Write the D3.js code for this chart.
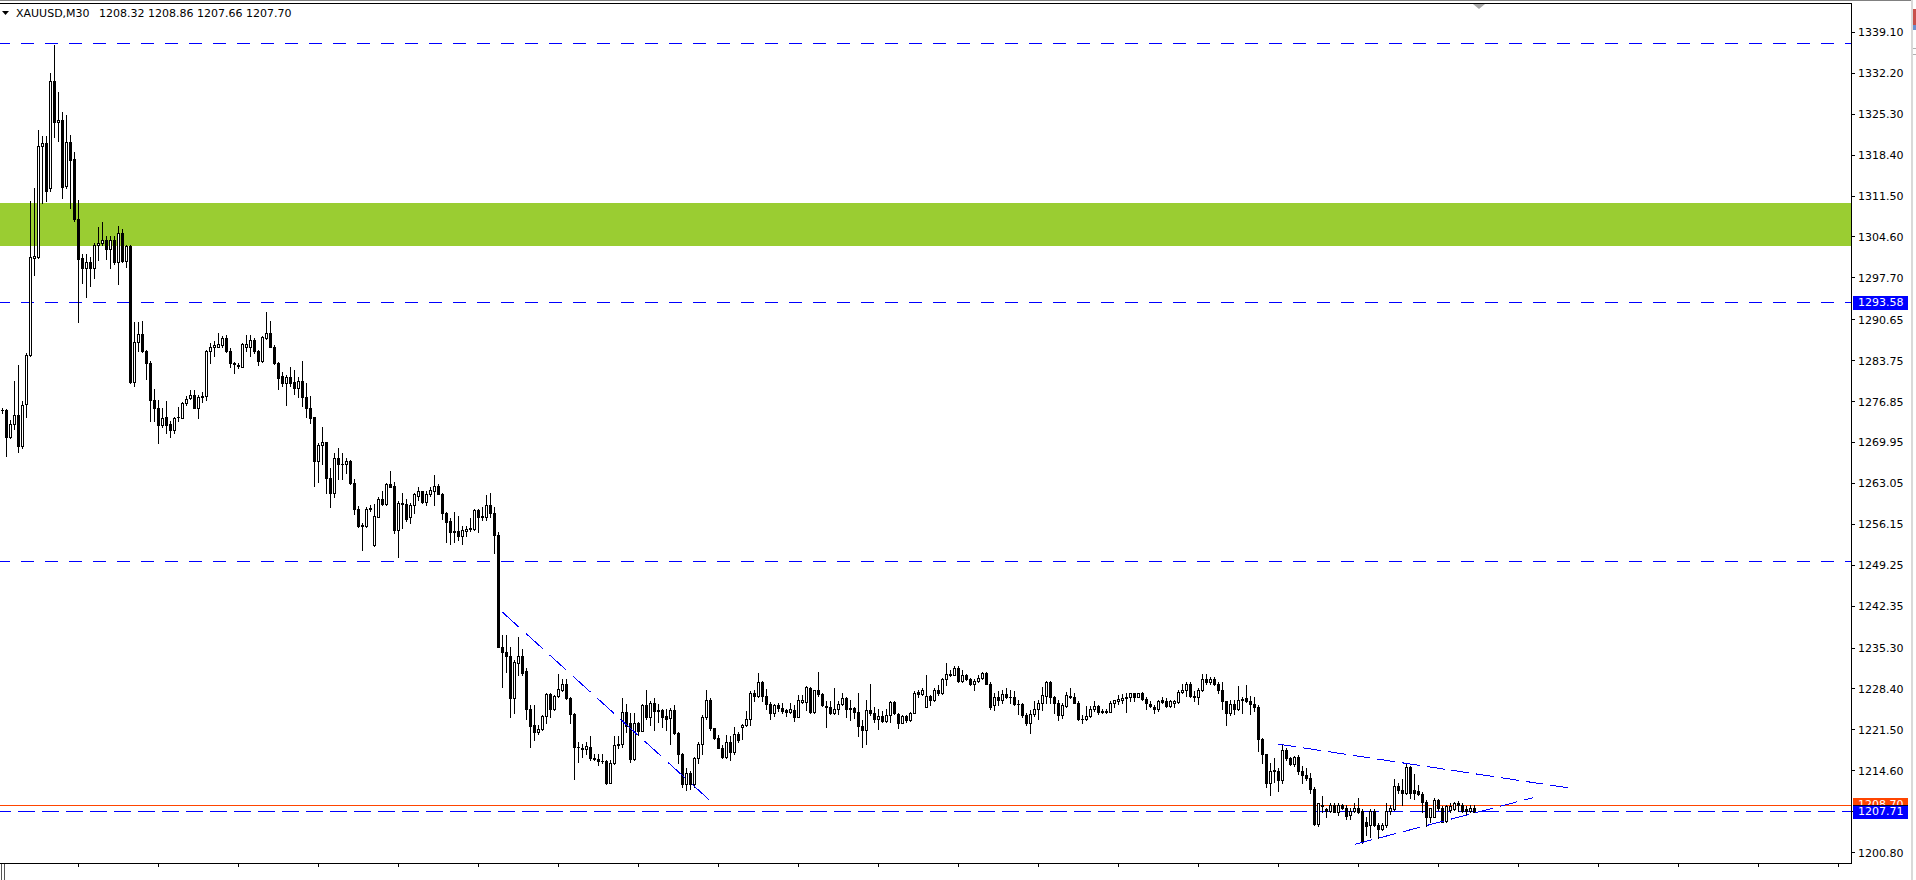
<!DOCTYPE html>
<html><head><meta charset="utf-8">
<script src="https://cdn.jsdelivr.net/npm/d3@7"></script>
<style>html,body{margin:0;padding:0;background:#fff;overflow:hidden}text{font-family:"DejaVu Sans",sans-serif;font-size:11px}</style>
</head><body><svg id="c" width="1916" height="880"></svg>
<script>
const symbolTitle = "XAUUSD,M30";
const lastQuote = ["1208.32", "1208.86", "1207.66", "1207.70"];

const opens = [
1275.4,1275.4,1270.9,1273.0,1274.6,1269.3,1276.4,1284.7,1301.1,1301.2,
1319.9,1320.4,1312.8,1330.9,1323.9,1324.4,1313.2,1320.6,1317.7,1307.7,
1301.0,1299.3,1300.3,1299.3,1303.2,1303.5,1304.1,1302.5,1304.1,1300.3,
1305.3,1300.5,1303.1,1280.2,1286.9,1288.2,1285.4,1283.3,1277.1,1275.7,
1272.9,1274.2,1273.0,1272.1,1274.2,1274.1,1276.6,1277.5,1277.9,1275.8,
1277.7,1277.8,1285.3,1286.1,1286.1,1286.4,1287.5,1285.4,1283.4,1283.0,
1282.7,1286.1,1286.1,1287.2,1285.4,1283.7,1287.5,1288.4,1286.1,1283.4,
1281.2,1279.9,1281.0,1280.2,1279.1,1280.3,1277.7,1275.8,1274.2,1266.8,
1269.5,1270.0,1263.9,1261.5,1267.4,1266.3,1266.4,1266.8,1263.1,1258.8,
1255.9,1255.9,1258.8,1252.6,1257.4,1260.4,1259.6,1263.0,1262.6,1255.2,
1259.7,1259.5,1257.4,1259.4,1261.0,1261.7,1260.0,1261.3,1261.8,1262.7,
1261.3,1258.0,1256.8,1255.0,1255.0,1254.2,1255.1,1255.3,1255.4,1258.6,
1257.4,1257.4,1259.4,1258.1,1254.4,1235.5,1234.6,1234.0,1226.9,1232.7,
1233.9,1231.4,1225.0,1222.3,1221.1,1221.6,1223.8,1227.5,1225.1,1227.2,
1228.2,1229.3,1226.9,1224.1,1218.7,1218.5,1218.3,1218.6,1216.7,1216.6,
1216.3,1216.2,1212.6,1215.9,1218.9,1219.2,1224.5,1222.7,1216.6,1222.6,
1221.4,1225.7,1223.7,1226.0,1224.7,1224.9,1223.9,1223.5,1224.9,1221.0,
1217.5,1212.4,1214.3,1212.4,1216.7,1219.1,1223.6,1226.5,1221.8,1220.2,
1218.5,1217.0,1219.5,1217.7,1220.8,1222.0,1222.4,1223.3,1227.8,1227.3,
1229.5,1227.3,1225.9,1224.3,1225.7,1225.2,1224.8,1224.6,1224.9,1223.7,
1226.2,1226.2,1228.6,1224.6,1228.2,1227.5,1225.6,1225.3,1224.4,1225.0,
1225.9,1226.8,1225.1,1225.2,1224.6,1222.2,1221.5,1224.9,1224.4,1223.3,
1223.8,1223.0,1224.0,1226.2,1224.2,1222.7,1223.8,1223.1,1224.4,1227.9,
1227.5,1225.4,1227.2,1226.5,1228.2,1227.7,1230.0,1231.0,1230.8,1231.9,
1229.8,1230.8,1230.0,1229.2,1229.7,1230.2,1231.1,1229.3,1225.7,1227.0,
1226.6,1227.5,1227.1,1227.0,1225.9,1225.8,1224.0,1222.7,1224.2,1225.0,
1226.0,1227.3,1229.6,1227.1,1226.0,1224.0,1225.6,1227.0,1227.1,1226.1,
1223.4,1223.4,1223.8,1225.1,1225.5,1224.7,1224.6,1224.6,1226.1,1226.4,
1226.6,1226.9,1227.0,1227.7,1227.1,1227.7,1226.7,1225.8,1225.4,1225.0,
1226.5,1226.3,1225.5,1226.0,1226.2,1227.9,1228.3,1229.2,1227.3,1227.1,
1228.3,1230.0,1229.6,1230.0,1229.3,1228.3,1226.3,1224.3,1225.8,1225.1,
1226.6,1226.8,1226.4,1225.8,1225.3,1220.0,1217.4,1212.6,1214.6,1214.5,
1213.1,1218.1,1216.7,1215.8,1217.0,1214.5,1213.9,1213.4,1211.6,1205.7,
1208.6,1208.1,1207.9,1208.8,1207.7,1208.8,1208.4,1207.1,1207.8,1208.3,
1207.8,1206.0,1205.4,1207.9,1205.5,1204.8,1205.4,1207.9,1208.1,1212.0,
1211.3,1210.9,1215.3,1211.3,1211.2,1210.7,1209.4,1206.9,1206.9,1209.7,
1208.3,1206.1,1208.0,1208.1,1209.1,1208.9,1208.1,1207.9,1208.32];

const highs = [
1275.7,1275.6,1273.8,1280.4,1283.0,1277.0,1285.0,1310.6,1312.8,1322.6,
1321.7,1321.7,1332.2,1337.0,1329.1,1325.6,1325.2,1321.8,1319.0,1310.8,
1301.8,1301.8,1301.3,1303.5,1306.3,1307.1,1304.8,1304.8,1304.8,1306.4,
1305.9,1303.2,1303.3,1290.3,1290.3,1290.4,1285.6,1283.7,1278.9,1277.1,
1275.7,1277.0,1273.5,1274.3,1276.0,1276.8,1277.8,1278.8,1278.8,1278.0,
1278.5,1285.6,1286.7,1287.0,1288.4,1287.9,1288.1,1285.8,1283.6,1283.3,
1286.7,1288.1,1288.1,1287.5,1285.6,1287.9,1292.0,1290.4,1286.4,1283.6,
1281.9,1281.3,1282.6,1282.1,1281.0,1283.7,1280.0,1277.8,1274.3,1269.8,
1272.6,1270.1,1265.7,1268.1,1269.0,1268.2,1267.4,1267.0,1263.8,1259.3,
1256.3,1259.0,1259.4,1259.6,1260.7,1261.7,1263.1,1265.1,1263.3,1260.1,
1261.5,1260.5,1259.7,1261.5,1262.5,1261.8,1261.7,1262.5,1264.5,1262.9,
1261.4,1258.3,1257.2,1258.3,1257.6,1255.8,1255.9,1257.2,1258.8,1258.8,
1259.0,1261.1,1261.5,1259.0,1254.9,1237.5,1237.5,1235.5,1233.3,1237.2,
1235.2,1232.0,1225.7,1225.7,1222.3,1224.0,1227.7,1227.7,1227.4,1230.9,
1230.0,1230.1,1227.1,1224.3,1219.5,1219.2,1219.4,1220.5,1217.4,1217.5,
1217.4,1216.4,1216.4,1220.4,1220.4,1226.8,1225.8,1224.3,1224.3,1222.9,
1225.8,1228.2,1226.3,1226.8,1225.9,1225.0,1225.1,1225.2,1225.7,1221.2,
1217.6,1215.0,1214.5,1217.0,1219.4,1224.0,1228.2,1226.8,1221.9,1220.6,
1219.0,1220.6,1220.4,1222.0,1221.2,1222.5,1224.7,1228.1,1228.2,1231.1,
1229.7,1228.4,1226.2,1225.8,1226.1,1226.0,1225.0,1226.0,1225.7,1227.4,
1227.4,1228.9,1228.8,1228.3,1231.2,1227.7,1226.3,1226.3,1228.6,1226.3,
1227.7,1227.1,1226.5,1225.4,1227.7,1223.2,1226.6,1229.3,1225.4,1225.0,
1224.7,1225.0,1226.3,1226.3,1224.4,1224.0,1224.0,1224.6,1228.0,1228.2,
1228.5,1230.8,1227.4,1228.5,1229.1,1230.3,1232.7,1231.6,1232.3,1232.2,
1231.6,1231.0,1230.2,1230.0,1230.8,1231.3,1231.3,1229.5,1227.7,1228.0,
1228.2,1228.5,1228.3,1228.0,1226.5,1226.1,1224.3,1224.9,1226.4,1226.6,
1228.8,1229.8,1229.7,1227.3,1226.6,1226.0,1227.9,1228.6,1227.7,1226.3,
1224.0,1225.5,1225.5,1226.4,1225.7,1225.1,1225.0,1226.3,1226.6,1227.4,
1227.5,1227.8,1227.8,1227.8,1227.8,1227.9,1227.1,1226.4,1225.7,1226.5,
1227.0,1226.8,1226.5,1226.6,1228.2,1229.3,1229.5,1229.5,1228.1,1228.5,
1231.0,1230.9,1230.4,1230.4,1229.6,1229.6,1226.4,1226.5,1226.5,1228.9,
1227.0,1229.1,1227.2,1227.1,1225.7,1220.1,1217.5,1215.9,1216.7,1215.0,
1219.0,1218.4,1217.0,1217.1,1217.3,1215.4,1215.0,1214.2,1211.9,1209.2,
1210.4,1208.4,1209.1,1209.1,1209.2,1209.0,1208.8,1208.3,1209.1,1210.0,
1208.1,1206.9,1208.1,1208.1,1205.8,1205.8,1209.1,1208.8,1213.2,1212.5,
1213.3,1216.0,1215.4,1214.1,1212.2,1211.1,1209.7,1208.4,1210.0,1209.8,
1208.7,1208.8,1209.1,1209.4,1209.5,1209.2,1208.7,1208.8,1208.86];

const lows = [
1274.9,1267.7,1270.7,1272.3,1268.4,1269.1,1274.3,1284.6,1298.2,1301.0,
1310.3,1310.6,1312.4,1321.5,1320.8,1311.2,1312.8,1309.5,1307.3,1290.2,
1296.8,1294.4,1296.4,1297.7,1300.7,1303.2,1300.9,1299.3,1300.0,1296.7,
1300.3,1299.6,1280.0,1279.4,1285.3,1285.2,1280.6,1273.6,1273.5,1269.8,
1272.6,1271.5,1270.8,1271.6,1273.6,1274.0,1276.3,1277.3,1275.7,1274.0,
1276.7,1277.1,1283.4,1284.5,1286.0,1286.1,1285.2,1282.6,1281.6,1282.5,
1282.6,1285.3,1284.5,1285.0,1283.0,1283.6,1287.4,1286.0,1283.1,1278.9,
1279.5,1276.3,1279.5,1278.1,1277.7,1276.1,1274.3,1273.2,1262.7,1263.3,
1266.4,1261.5,1259.0,1260.8,1263.8,1263.8,1264.8,1263.0,1257.9,1255.7,
1251.9,1255.7,1258.4,1252.5,1257.4,1259.4,1259.4,1262.4,1254.7,1250.7,
1255.6,1256.8,1256.3,1258.0,1260.3,1259.7,1259.4,1261.0,1259.4,1261.2,
1257.0,1253.2,1252.8,1253.2,1253.5,1252.8,1254.2,1255.1,1255.2,1254.9,
1256.9,1256.9,1257.4,1251.3,1235.4,1228.8,1231.3,1223.7,1224.3,1230.8,
1230.8,1223.4,1218.7,1219.8,1220.8,1221.5,1222.7,1223.6,1224.9,1227.1,
1228.1,1226.7,1222.6,1213.2,1216.1,1217.0,1217.5,1216.4,1216.4,1215.6,
1215.9,1212.4,1212.5,1215.7,1218.4,1218.7,1221.2,1216.1,1216.4,1220.6,
1221.3,1223.4,1222.3,1221.5,1222.9,1222.0,1221.5,1219.2,1220.8,1215.9,
1211.9,1211.3,1211.5,1211.8,1215.9,1217.5,1223.4,1221.5,1219.9,1218.4,
1216.7,1216.7,1216.4,1217.5,1219.5,1219.9,1222.2,1222.3,1226.4,1227.1,
1226.3,1225.0,1223.3,1223.8,1224.7,1224.4,1223.8,1224.3,1223.0,1223.6,
1226.0,1224.9,1224.3,1224.4,1227.3,1225.6,1222.0,1224.2,1224.2,1224.2,
1225.7,1223.6,1223.1,1223.5,1220.4,1218.6,1219.2,1224.0,1222.9,1221.6,
1222.9,1222.9,1222.9,1224.2,1221.9,1222.6,1222.9,1223.0,1224.3,1227.1,
1227.4,1225.4,1225.7,1226.3,1227.4,1227.5,1229.1,1230.6,1230.7,1229.6,
1229.6,1229.9,1229.0,1228.2,1229.5,1230.0,1229.2,1225.1,1224.9,1225.7,
1226.1,1226.8,1226.1,1225.7,1224.2,1223.6,1222.3,1221.0,1223.8,1223.3,
1224.9,1226.0,1226.0,1224.4,1223.2,1223.5,1225.4,1226.8,1226.0,1223.2,
1222.6,1223.2,1223.6,1224.7,1224.2,1224.4,1224.3,1224.5,1225.4,1225.8,
1226.0,1224.6,1226.3,1226.4,1227.0,1226.6,1225.1,1225.3,1224.4,1224.7,
1226.0,1225.4,1225.3,1225.4,1226.0,1227.7,1227.2,1227.1,1226.3,1225.8,
1228.1,1229.2,1229.3,1229.1,1227.7,1225.0,1222.4,1224.0,1224.1,1224.9,
1224.4,1226.2,1224.2,1224.7,1218.0,1215.9,1211.9,1210.6,1212.8,1211.2,
1212.5,1216.4,1215.6,1215.4,1214.1,1212.6,1213.0,1210.8,1205.5,1205.3,
1207.7,1206.9,1207.7,1207.6,1207.2,1208.2,1206.5,1206.4,1207.7,1207.5,
1202.5,1203.8,1203.5,1205.3,1203.2,1204.6,1205.2,1207.4,1208.0,1210.9,
1208.8,1210.7,1210.0,1209.8,1210.5,1207.7,1205.3,1205.9,1206.8,1208.0,
1205.9,1206.0,1207.7,1208.0,1207.9,1207.7,1207.2,1207.7,1207.66];

const closes = [
1275.4,1270.9,1273.0,1274.6,1269.4,1276.3,1284.7,1301.3,1301.4,1319.9,
1320.4,1312.4,1330.9,1324.0,1324.4,1313.1,1320.6,1317.6,1307.6,1300.9,
1299.3,1300.3,1299.3,1303.2,1303.5,1304.1,1302.5,1304.1,1300.3,1305.3,
1300.5,1303.0,1280.2,1286.9,1288.2,1285.4,1283.3,1277.1,1275.7,1272.9,
1274.1,1272.9,1272.1,1274.1,1274.3,1276.6,1277.3,1277.9,1275.8,1277.7,
1277.8,1285.4,1286.1,1286.4,1286.6,1287.5,1285.3,1283.4,1283.1,1282.9,
1286.5,1286.6,1287.2,1285.3,1283.7,1287.8,1288.4,1286.1,1283.3,1280.9,
1279.9,1281.0,1279.9,1279.1,1280.3,1277.7,1275.8,1274.1,1266.8,1269.5,
1270.0,1263.9,1261.5,1267.4,1266.3,1266.4,1266.9,1263.2,1258.8,1255.8,
1256.0,1258.8,1258.9,1257.6,1260.5,1259.6,1263.0,1262.5,1255.2,1259.7,
1259.5,1257.0,1259.4,1261.3,1261.7,1259.9,1261.3,1261.9,1262.7,1261.3,
1258.0,1256.6,1254.9,1254.8,1254.2,1255.2,1255.4,1255.5,1258.6,1257.4,
1257.5,1259.4,1258.1,1254.4,1235.5,1234.6,1234.0,1226.9,1232.9,1234.0,
1231.1,1225.0,1222.2,1221.1,1221.6,1223.8,1227.5,1225.1,1227.2,1228.4,
1229.3,1226.9,1224.1,1218.7,1218.6,1218.3,1218.8,1216.7,1216.6,1216.3,
1216.2,1212.6,1215.9,1219.0,1219.2,1224.5,1222.2,1216.6,1222.6,1221.4,
1225.7,1223.7,1226.0,1224.7,1224.9,1223.7,1223.4,1224.9,1221.0,1217.5,
1212.4,1214.3,1212.4,1216.7,1219.1,1223.6,1226.5,1221.8,1220.2,1218.5,
1217.0,1219.5,1217.7,1220.8,1219.8,1222.4,1223.3,1227.8,1227.3,1229.5,
1227.3,1225.8,1224.3,1225.7,1225.2,1224.7,1224.6,1225.0,1223.7,1226.5,
1226.5,1228.7,1224.6,1228.2,1227.5,1225.7,1225.3,1224.4,1225.0,1225.9,
1226.8,1225.1,1225.2,1224.6,1222.2,1221.5,1224.9,1224.4,1223.3,1223.8,
1223.0,1224.0,1226.2,1224.3,1222.7,1223.8,1223.1,1224.4,1227.8,1227.5,
1228.3,1227.2,1226.5,1228.2,1227.7,1230.0,1230.9,1230.8,1231.9,1229.8,
1230.8,1230.0,1229.2,1229.7,1230.2,1231.1,1229.3,1225.3,1227.0,1226.6,
1227.5,1227.1,1227.0,1225.9,1225.8,1224.0,1222.7,1224.2,1225.1,1226.1,
1227.4,1229.6,1227.1,1226.0,1224.0,1225.7,1227.4,1227.2,1226.1,1223.3,
1223.3,1223.8,1225.1,1225.5,1224.6,1224.5,1224.7,1226.1,1226.5,1226.7,
1226.9,1227.0,1227.7,1227.1,1227.7,1226.7,1226.0,1225.5,1225.0,1226.3,
1226.2,1225.5,1226.3,1226.3,1227.9,1228.3,1229.2,1227.3,1227.1,1228.3,
1230.0,1229.6,1230.0,1229.3,1228.3,1226.3,1224.3,1225.8,1225.1,1226.6,
1226.7,1226.4,1225.8,1225.3,1220.0,1217.4,1212.6,1214.6,1214.7,1213.0,
1218.1,1216.7,1215.8,1217.0,1214.5,1213.9,1213.4,1211.6,1205.6,1209.1,
1208.8,1207.9,1208.8,1207.7,1208.8,1208.4,1207.0,1207.8,1208.4,1207.7,
1202.7,1205.3,1207.8,1205.5,1204.8,1205.5,1207.9,1208.4,1212.0,1211.3,
1210.9,1215.3,1210.8,1210.8,1210.7,1209.4,1206.9,1208.3,1209.7,1208.3,
1206.0,1208.7,1208.7,1209.1,1208.8,1207.9,1207.9,1208.4,1207.70];

const priceTicks = ["1339.10","1332.20","1325.30","1318.40","1311.50","1304.60","1297.70",
  "1290.65","1283.75","1276.85","1269.95","1263.05","1256.15","1249.25","1242.35",
  "1235.30","1228.40","1221.50","1214.60","1207.70","1200.80"];

const zoneRange = [1303.1, 1310.3];
const levelPrices = [1337.25, 1293.58, 1249.95];
const levelLabel = "1293.58";
const supportPrice = 1207.71;
const askPrice = 1208.70;
const trendLines = [
  [[124.9, 1241.4], [176.7, 1209.7]],
  [[319.0, 1219.1], [391.75, 1211.7]],
  [[338.0, 1202.2], [382.75, 1210.1]]
];
const timeTickIdx = [19,39,59,79,99,119,139,159,179,199,219,239,259,279,299,319,339,359,379,399,419,439,459];

// ---------- drawing ----------
const axisX = 1851, frameTop = 3, frameBottom = 863;
const x = d3.scaleLinear().domain([0, 462]).range([2.5, 1850.5]);
const y = d3.scaleLinear().domain([1200.80, 1339.10]).range([852.7, 32.3]);
const svg = d3.select("#c").attr("shape-rendering", "crispEdges");
const py = p => Math.floor(y(p)) + 0.5;

svg.append("rect").attr("width", 1916).attr("height", 880).attr("fill", "#fff");

// zone
const zt = Math.round(y(zoneRange[1])), zb = Math.round(y(zoneRange[0]));
svg.append("rect").attr("x", 0).attr("y", zt).attr("width", axisX).attr("height", zb - zt).attr("fill", "#9ACD32");

// horizontal dashed levels
svg.selectAll("line.lvl").data(levelPrices).join("line")
  .attr("x1", 0).attr("x2", axisX).attr("y1", d => py(d)).attr("y2", d => py(d))
  .attr("stroke", "#0000FF").attr("stroke-width", 1).attr("stroke-dasharray", "13,11").attr("stroke-dashoffset", 3);

// ask line (solid orange)
svg.append("line").attr("x1", 0).attr("x2", axisX).attr("y1", py(askPrice)).attr("y2", py(askPrice))
  .attr("stroke", "#FF4500").attr("stroke-width", 1);
// support dashed
svg.append("line").attr("x1", 0).attr("x2", axisX).attr("y1", py(supportPrice)).attr("y2", py(supportPrice))
  .attr("stroke", "#0000FF").attr("stroke-width", 1).attr("stroke-dasharray", "17,7").attr("stroke-dashoffset", 6);

// candles
const g = svg.append("g");
opens.forEach((o, i) => {
  const c = closes[i], h = highs[i], l = lows[i];
  const cx = Math.floor(x(i));
  const yh = Math.round(y(h)), yl = Math.round(y(l));
  g.append("rect").attr("x", cx).attr("y", yh).attr("width", 1).attr("height", Math.max(1, yl - yh + 1)).attr("fill", "#000");
  const top = Math.round(y(Math.max(o, c))), bot = Math.round(y(Math.min(o, c)));
  g.append("rect").attr("x", cx - 1).attr("y", top).attr("width", 3).attr("height", Math.max(1, bot - top + 1)).attr("fill", "#000");
  if (c > o && bot - top >= 2) {
    g.append("rect").attr("x", cx).attr("y", top + 1).attr("width", 1).attr("height", bot - top - 1).attr("fill", "#fff");
  }
});

// trend lines
const tl = d3.line().x(d => x(d[0])).y(d => y(d[1]));
trendLines.forEach((pts, k) => {
  svg.append("path").attr("d", tl(pts)).attr("fill", "none").attr("stroke", "#0000FF").attr("stroke-width", 1)
    .attr("stroke-dasharray", k === 0 ? "23,9" : "18,7");
});

// frame
svg.append("line").attr("x1", 0).attr("x2", 1911).attr("y1", 0.5).attr("y2", 0.5).attr("stroke", "#808080");
svg.append("line").attr("x1", 0).attr("x2", axisX + 1).attr("y1", frameTop + 0.5).attr("y2", frameTop + 0.5).attr("stroke", "#000");
svg.append("line").attr("x1", axisX + 0.5).attr("x2", axisX + 0.5).attr("y1", frameTop).attr("y2", frameBottom + 1).attr("stroke", "#000");
svg.append("line").attr("x1", 0).attr("x2", axisX + 1).attr("y1", frameBottom + 0.5).attr("y2", frameBottom + 0.5).attr("stroke", "#000");
svg.append("line").attr("x1", 1.5).attr("x2", 1.5).attr("y1", frameBottom + 1).attr("y2", 880).attr("stroke", "#555");
svg.append("line").attr("x1", 4.5).attr("x2", 4.5).attr("y1", frameBottom + 1).attr("y2", 880).attr("stroke", "#555");
svg.append("rect").attr("x", 1911).attr("y", 0).attr("width", 2).attr("height", 880).attr("fill", "#d9d9d9");
svg.append("rect").attr("x", 1913).attr("y", 9).attr("width", 3).attr("height", 16).attr("fill", "#c8504b");
svg.append("rect").attr("x", 1913).attr("y", 25).attr("width", 3).attr("height", 5).attr("fill", "#6a8fd0");
svg.append("rect").attr("x", 1913).attr("y", 48).attr("width", 3).attr("height", 1).attr("fill", "#b0b0b0");
svg.append("rect").attr("x", 1913).attr("y", 54).attr("width", 3).attr("height", 1).attr("fill", "#b0b0b0");

// time ticks
svg.selectAll("line.tt").data(timeTickIdx).join("line")
  .attr("x1", d => Math.floor(x(d)) + 0.5).attr("x2", d => Math.floor(x(d)) + 0.5)
  .attr("y1", frameBottom + 1).attr("y2", frameBottom + 4).attr("stroke", "#000");

// price axis
const ax = svg.append("g");
priceTicks.forEach(t => {
  const v = +t, yy = py(v);
  ax.append("line").attr("x1", axisX + 1).attr("x2", axisX + 4).attr("y1", yy).attr("y2", yy).attr("stroke", "#000");
  ax.append("text").attr("x", 1858).attr("y", y(v)).attr("dy", "0.36em").attr("fill", "#000").text(t);
});

// price labels
function priceLabel(price, text, fill, yc) {
  const cy = yc !== undefined ? yc : Math.floor(y(price)) + 0.5;
  svg.append("rect").attr("x", 1853).attr("y", Math.round(cy - 7)).attr("width", 55).attr("height", 14).attr("fill", fill);
  svg.append("text").attr("x", 1858).attr("y", cy).attr("dy", "0.36em").attr("fill", "#fff").text(text);
}
priceLabel(askPrice, askPrice.toFixed(2), "#FF4500", 804.5);
priceLabel(supportPrice, supportPrice.toFixed(2), "#0000FF");
svg.append("line").attr("x1", 1853).attr("x2", 1908).attr("y1", Math.round(py(supportPrice) - 7) + 0.5).attr("y2", Math.round(py(supportPrice) - 7) + 0.5).attr("stroke", "#000033");
priceLabel(+levelLabel, levelLabel, "#0000FF");

// chart shift marker
svg.append("path").attr("d", "M1473,4L1485,4L1479,9Z").attr("fill", "#a8a8a8").attr("shape-rendering", "auto");

// header
svg.append("path").attr("d", "M2,11L9,11L5.5,15Z").attr("fill", "#000").attr("shape-rendering", "auto");
svg.append("text").attr("x", 16).attr("y", 17).attr("fill", "#000").text(symbolTitle);
svg.append("text").attr("x", 99).attr("y", 17).attr("fill", "#000").text(lastQuote.join(" "));
</script></body></html>
